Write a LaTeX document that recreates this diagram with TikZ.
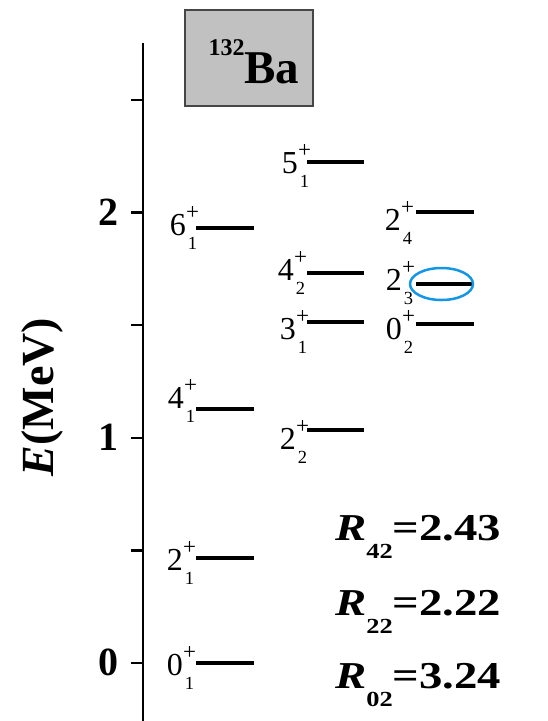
\documentclass[tikz,border=0pt]{standalone}
\usepackage{fontspec}
\setmainfont{Liberation Serif}
\usepackage{graphicx}
\definecolor{ellblue}{RGB}{20,150,230}
\definecolor{boxgray}{RGB}{193,193,193}
\definecolor{boxedge}{RGB}{70,70,70}
\newcommand\lvl[2]{{\fontsize{32}{32}\selectfont #1}\rlap{\fontsize{23}{23}\selectfont\kern0.3pt\raisebox{16pt}{+}}\rlap{\fontsize{18.5}{18.5}\selectfont\kern2pt\raisebox{-14.5pt}{#2}}}
\newcommand\rlab[2]{\scalebox{1.23}[1]{\bfseries{\fontsize{38}{38}\selectfont\itshape R}\raisebox{-18pt}{\fontsize{21.5}{21.5}\selectfont #1}{\fontsize{38}{38}\selectfont =#2}}}
\begin{document}
\begin{tikzpicture}[x=1pt,y=-1pt,
  lev/.style={line width=4pt},
  lab/.style={inner sep=0pt,anchor=base east},
  ticklab/.style={inner sep=0pt,anchor=east,font=\fontsize{40}{40}\selectfont\bfseries},
  axisline/.style={line width=2.4pt},
  rl/.style={inner sep=0pt,anchor=base west}]
\useasboundingbox (0,0) rectangle (548,721);
% header box
\node[draw=boxedge,fill=boxgray,line width=1.2pt,minimum width=128pt,minimum height=96pt,inner sep=0pt] (box) at (249,58) {};
\node[inner sep=0pt,anchor=base] (nuc) at (254,83) {\bfseries\raisebox{28pt}{\fontsize{24}{24}\selectfont 132}{\fontsize{47}{47}\selectfont Ba}};
% axis
\coordinate (atop) at (143,43);
\coordinate (abot) at (143,721);
\draw[axisline] (atop) -- (abot);
\foreach \k in {0,...,5}{
  \coordinate (tk\k) at (143,{663-112.6*\k});
  \draw[axisline] (tk\k) -- ++(-12,0);
}
\node[ticklab] (t0) at (119,662.5) {0};
\node[ticklab] (t1) at (119,437.5) {1};
\node[ticklab] (t2) at (119,212.5) {2};
\node[inner sep=0pt,rotate=90,font=\fontsize{46}{46}\selectfont\bfseries] (ylab) at (42,397) {\textit{E}(MeV)};
% column 1
\draw[lev] (196,663) -- (254,663);
\draw[lev] (196,558) -- (254,558);
\draw[lev] (196,409) -- (254,409);
\draw[lev] (196,228) -- (254,228);
\node[lab] (l01) at (183,675) {\lvl{0}{1}};
\node[lab] (l21) at (183,570) {\lvl{2}{1}};
\node[lab] (l41) at (184,408) {\lvl{4}{1}};
\node[lab] (l61) at (186,235) {\lvl{6}{1}};
% column 2
\draw[lev] (307,430) -- (364,430);
\draw[lev] (307,322) -- (364,322);
\draw[lev] (307,273) -- (364,273);
\draw[lev] (307,162) -- (364,162);
\node[lab] (l22) at (296,449) {\lvl{2}{2}};
\node[lab] (l31) at (296,339) {\lvl{3}{1}};
\node[lab] (l42) at (294,280) {\lvl{4}{2}};
\node[lab] (l51) at (298,173) {\lvl{5}{1}};
% column 3
\draw[lev] (416,324) -- (474,324);
\draw[lev] (416,284) -- (474,284);
\draw[lev] (416,212) -- (474,212);
\node[lab] (l02) at (402,339) {\lvl{0}{2}};
\node[lab] (l23) at (402,290) {\lvl{2}{3}};
\node[lab] (l24) at (401,230) {\lvl{2}{4}};
\draw[ellblue,line width=2.5pt] (441.5,284) ellipse [x radius=31.5pt,y radius=16pt];
% ratios
\node[rl] (r42) at (335,540) {\rlab{42}{2.43}};
\node[rl] (r22) at (335,615) {\rlab{22}{2.22}};
\node[rl] (r02) at (335,688) {\rlab{02}{3.24}};
\end{tikzpicture}
\end{document}
